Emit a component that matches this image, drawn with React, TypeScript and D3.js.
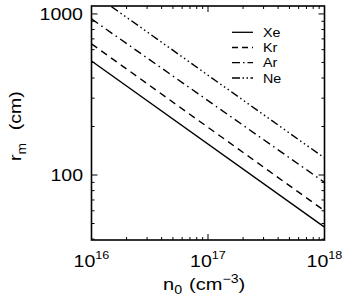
import React from "react";
import * as d3 from "d3";

const densities = [1e16, 1e18];
const xeValues = [510, 47.5];
const krValues = [652, 60];
const arValues = [931, 90];
const neValues = [1360, 127.5];
const seriesNames = ["Xe", "Kr", "Ar", "Ne"];
const xMajorTicks = [1e16, 1e17, 1e18];
const xTickExponents = ["16", "17", "18"];
const yMajorTicks = [100, 1000];
const yTickLabels = ["100", "1000"];

const W = 346;
const H = 301;
const L = 91.5, R = 324.5, T = 6, B = 240;
const FONT = "'Liberation Sans', Arial, Helvetica, sans-serif";
const SX = 1.15;

const dashes = ["none", "7,5", "8,4,1.5,4", "8,3,1.5,3,1.5,3,1.5,3"];

export default function App() {
  const x = d3.scaleLog().domain([1e16, 1e18]).range([L, R]);
  const y = d3.scaleLog().domain([39.5, 1120]).range([B, T]);
  const all = [xeValues, krValues, arValues, neValues];
  const line = d3
    .line<[number, number]>()
    .x((d) => x(d[0]))
    .y((d) => y(d[1]));

  const xMinor: number[] = [];
  for (let e = 16; e < 18; e++)
    for (let m = 2; m <= 9; m++) xMinor.push(m * Math.pow(10, e));
  const yMinor: number[] = [];
  for (let e = 1; e < 3; e++)
    for (let m = 2; m <= 9; m++) {
      const v = m * Math.pow(10, e);
      if (v >= 39.5 && v <= 1120) yMinor.push(v);
    }

  const legendY = [32.3, 47.5, 62.7, 78];

  return (
    <svg
      width={W}
      height={H}
      style={{ position: "absolute", left: 0, top: 0, background: "#fff" }}
    >
      <defs>
        <clipPath id="plot">
          <rect x={L} y={T} width={R - L} height={B - T} />
        </clipPath>
      </defs>
      <rect x={0} y={0} width={W} height={H} fill="#fff" />
      <g clipPath="url(#plot)">
        {all.map((vals, i) => (
          <path
            key={i}
            d={line(densities.map((d, j) => [d, vals[j]]) as [number, number][]) || ""}
            fill="none"
            stroke="#000"
            strokeWidth={1.4}
            strokeDasharray={dashes[i]}
          />
        ))}
      </g>
      {/* ticks */}
      <g stroke="#000" strokeWidth={1}>
        {xMajorTicks.map((t, i) => (
          <g key={"xm" + i}>
            <line x1={x(t)} x2={x(t)} y1={B} y2={B - 6} />
            <line x1={x(t)} x2={x(t)} y1={T} y2={T + 6} />
          </g>
        ))}
        {xMinor.map((t, i) => (
          <g key={"xn" + i}>
            <line x1={x(t)} x2={x(t)} y1={B} y2={B - 3} />
            <line x1={x(t)} x2={x(t)} y1={T} y2={T + 3} />
          </g>
        ))}
        {yMajorTicks.map((t, i) => (
          <g key={"ym" + i}>
            <line x1={L} x2={L + 6} y1={y(t)} y2={y(t)} />
            <line x1={R} x2={R - 6} y1={y(t)} y2={y(t)} />
          </g>
        ))}
        {yMinor.map((t, i) => (
          <g key={"yn" + i}>
            <line x1={L} x2={L + 3} y1={y(t)} y2={y(t)} />
            <line x1={R} x2={R - 3} y1={y(t)} y2={y(t)} />
          </g>
        ))}
      </g>
      <rect
        x={L}
        y={T}
        width={R - L}
        height={B - T}
        fill="none"
        stroke="#000"
        strokeWidth={1.6}
      />
      {/* x tick labels */}
      {xMajorTicks.map((t, i) => (
        <text
          key={"xl" + i}
          transform={`translate(${x(t)},267) scale(${SX},1)`}
          textAnchor="middle"
          fontFamily={FONT}
          fontSize={17}
          fill="#000"
        >
          10
          <tspan fontSize={11} dy={-8}>
            {xTickExponents[i]}
          </tspan>
        </text>
      ))}
      {/* y tick labels */}
      {yMajorTicks.map((t, i) => (
        <text
          key={"yl" + i}
          transform={`translate(83,${y(t) + 6}) scale(${SX},1)`}
          textAnchor="end"
          fontFamily={FONT}
          fontSize={17}
          fill="#000"
        >
          {yTickLabels[i]}
        </text>
      ))}
      {/* x axis title */}
      <text
        transform={`translate(163,290) scale(1.18,1)`}
        textAnchor="start"
        fontFamily={FONT}
        fontSize={17}
        fill="#000"
      >
        n
        <tspan fontSize={12} dy={4}>0</tspan>
        <tspan dy={-4} dx={6}>(cm</tspan>
        <tspan fontSize={12} dy={-7}>−3</tspan>
        <tspan dy={7}>)</tspan>
      </text>
      {/* y axis title */}
      <text
        transform={`translate(21,161) rotate(-90) scale(1.15,1)`}
        textAnchor="start"
        fontFamily={FONT}
        fontSize={17}
        fill="#000"
      >
        r
        <tspan fontSize={12} dy={5}>m</tspan>
        <tspan dy={-5} dx={11}>(cm)</tspan>
      </text>
      {/* legend */}
      {seriesNames.map((n, i) => (
        <g key={"lg" + i}>
          <line
            x1={232}
            x2={253}
            y1={legendY[i]}
            y2={legendY[i]}
            stroke="#000"
            strokeWidth={1.3}
            strokeDasharray={i === 0 ? "none" : i === 1 ? "6,4" : i === 2 ? "8,3,1.5,3" : "8,2.5,1.5,2.5,1.5,2.5"}
          />
          <text
            transform={`translate(263,${legendY[i] + 4.5}) scale(1.1,1)`}
            fontFamily={FONT}
            fontSize={13}
            fill="#000"
          >
            {n}
          </text>
        </g>
      ))}
    </svg>
  );
}
